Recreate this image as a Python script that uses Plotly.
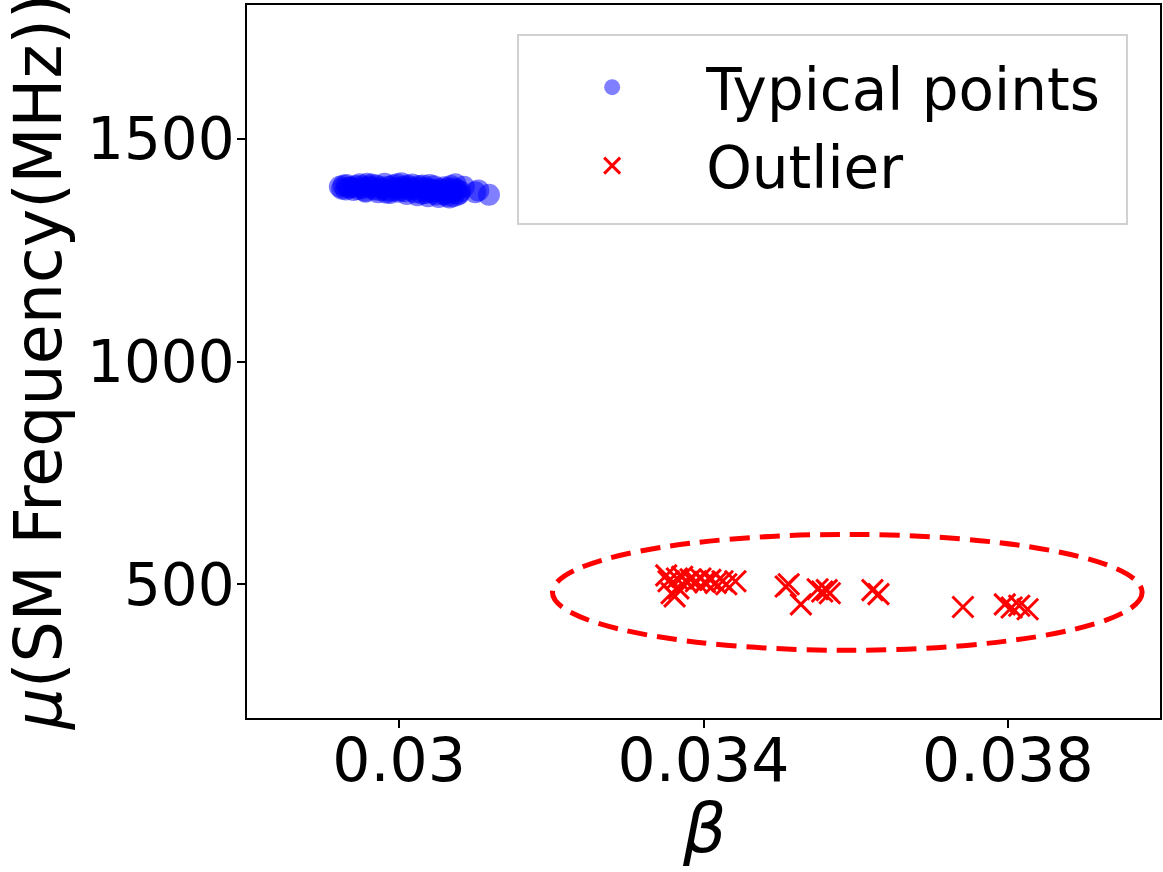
import plotly.graph_objects as go

##### Data #####

typical_beta = [
    0.02922, 0.02925, 0.02930, 0.02931, 0.02934, 0.02940, 0.02943, 0.02948, 0.02952, 0.02955,
    0.02958, 0.02961, 0.02964, 0.02968, 0.02972, 0.02976, 0.02979, 0.02981, 0.02984, 0.02988,
    0.02992, 0.02995, 0.02999, 0.03000, 0.03003, 0.03006, 0.03010, 0.03013, 0.03015, 0.03017,
    0.03021, 0.03024, 0.03028, 0.03031, 0.03033, 0.03035, 0.03038, 0.03042, 0.03044, 0.03046,
    0.03049, 0.03052, 0.03056, 0.03059, 0.03061, 0.03063, 0.03066, 0.03068, 0.03070, 0.03073,
    0.03074, 0.03077, 0.03080, 0.03085, 0.03100, 0.03104, 0.03118,
    0.02927, 0.02937, 0.02946, 0.02950, 0.02962, 0.02970, 0.02974, 0.02986, 0.02990, 0.02997,
    0.03002, 0.03008, 0.03019, 0.03026, 0.03030, 0.03037, 0.03040, 0.03047, 0.03054, 0.03058,
    0.03065, 0.03071, 0.03076, 0.03079, 0.02956, 0.02983, 0.03011, 0.03039, 0.03062,
]
typical_mu = [
    1392, 1388, 1386, 1396, 1390, 1385, 1394, 1398, 1389, 1383,
    1399, 1393, 1397, 1386, 1380, 1391, 1387, 1399, 1384, 1378,
    1395, 1388, 1381, 1385, 1400, 1392, 1376, 1386, 1391, 1397,
    1380, 1373, 1390, 1395, 1384, 1378, 1371, 1386, 1379, 1393,
    1375, 1369, 1383, 1391, 1377, 1372, 1368, 1394, 1380, 1388,
    1398, 1374, 1382, 1392, 1380, 1384, 1374,
    1395, 1391, 1387, 1393, 1390, 1395, 1385, 1392, 1383, 1398,
    1389, 1382, 1386, 1394, 1377, 1389, 1396, 1384, 1387, 1376,
    1389, 1371, 1385, 1377, 1381, 1379, 1395, 1382, 1385,
]

outlier_beta = [
    0.03351, 0.03354, 0.03358, 0.03362, 0.03365, 0.03367, 0.03372, 0.03378, 0.03383, 0.03390,
    0.03396, 0.03402, 0.03409, 0.03416, 0.03425, 0.03430, 0.03442,
    0.03508, 0.03512, 0.03528, 0.03550, 0.03556, 0.03562, 0.03566, 0.03622, 0.03630,
    0.03741, 0.03796, 0.03805, 0.03815, 0.03826,
]
outlier_mu = [
    520, 507, 480, 473, 513, 491, 517, 505, 511, 507,
    513, 505, 510, 503, 507, 500, 507,
    495, 500, 455, 489, 484, 487, 480, 487, 478,
    449, 455, 448, 452, 444,
]

# dashed ellipse around the outliers (centre and half-axes in data units)
ellipse_center = (0.03589, 482)
ellipse_radius = (0.003875, 130)

x_ticks = [0.030, 0.034, 0.038]
x_ticktext = ["0.03", "0.034", "0.038"]
y_ticks = [500, 1000, 1500]

FONT = "DejaVu Sans"

##### Figure #####

fig = go.Figure()

fig.add_trace(go.Scatter(
    x=typical_beta, y=typical_mu,
    mode="markers",
    name="Typical points",
    marker=dict(color="rgba(0,0,255,0.5)", size=22, line=dict(width=0)),
))

fig.add_trace(go.Scatter(
    x=outlier_beta, y=outlier_mu,
    mode="markers",
    name="Outlier",
    marker=dict(symbol="x-thin", size=21, color="red",
                line=dict(color="red", width=3)),
))

cx, cy = ellipse_center
rx, ry = ellipse_radius
fig.add_shape(
    type="circle", xref="x", yref="y",
    x0=cx - rx, x1=cx + rx, y0=cy - ry, y1=cy + ry,
    line=dict(color="red", width=5, dash="20px,10px"),
)

# legend frame drawn separately so it can have matplotlib-like padding
fig.add_shape(
    type="rect", xref="paper", yref="paper",
    x0=0.2968, x1=0.9638, y0=0.693, y1=0.958,
    line=dict(color="#d0d0d0", width=2),
    fillcolor="rgba(255,255,255,0.8)",
    layer="below",
)

# axis titles as annotations so they sit where matplotlib puts them
fig.add_annotation(
    text="<i>β</i>", xref="paper", yref="paper",
    x=0.5, y=-0.155, xanchor="center", yanchor="middle",
    showarrow=False, font=dict(family=FONT, size=68, color="black"),
)
fig.add_annotation(
    text="<i>μ</i>(SM Frequency(MHz))", xref="paper", yref="paper",
    x=-0.228, y=0.5, xanchor="center", yanchor="middle", textangle=-90,
    showarrow=False, font=dict(family=FONT, size=65, color="black"),
)

fig.update_layout(
    width=1163, height=872,
    margin=dict(l=247, r=3, t=5, b=154),
    paper_bgcolor="white",
    plot_bgcolor="white",
    font=dict(family=FONT, size=60, color="black"),
    showlegend=True,
    legend=dict(
        x=0.297, y=0.9467, xanchor="left", yanchor="top",
        bgcolor="rgba(0,0,0,0)", borderwidth=0,
        font=dict(family=FONT, size=58),
        itemwidth=178,
    ),
)

fig.update_xaxes(
    range=[0.028, 0.040],
    tickvals=x_ticks, ticktext=x_ticktext,
    ticks="outside", ticklen=8, tickwidth=1.5, tickcolor="black",
    ticklabelstandoff=-19,
    showline=True, linecolor="black", linewidth=1.5, mirror=True,
    showgrid=False, zeroline=False, automargin=False,
)
fig.update_yaxes(
    range=[200, 1800],
    tickvals=y_ticks,
    ticks="outside", ticklen=8, tickwidth=1.5, tickcolor="black",
    ticklabelstandoff=-9,
    tickfont=dict(size=58),
    showline=True, linecolor="black", linewidth=1.5, mirror=True,
    showgrid=False, zeroline=False, automargin=False,
)

# drop the browser's default body margin so the figure sits at the page corner
fig.write_html(
    "out.html",
    config={"displayModeBar": False},
    post_script="document.body.style.margin='0px';",
)
